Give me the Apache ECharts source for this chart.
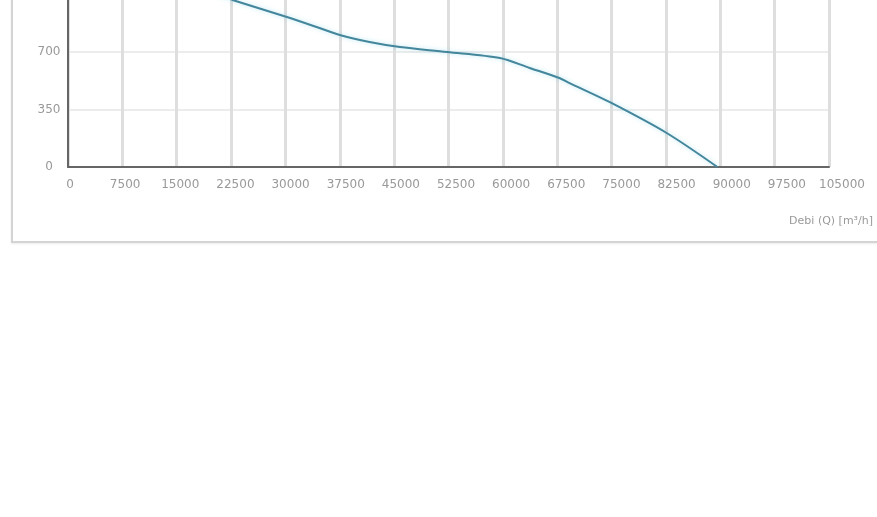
<!DOCTYPE html>
<html>
<head>
<meta charset="utf-8">
<script src="https://cdn.jsdelivr.net/npm/echarts@6/dist/echarts.min.js"></script>
<style>
  html, body { margin: 0; padding: 0; width: 877px; height: 517px; overflow: hidden; background: #fff; }
  #frame { position: absolute; left: 11px; top: -60px; width: 900px; height: 299px;
           border: 2px solid #d4d4d4; box-shadow: 0 1px 2px rgba(0,0,0,0.08); background: #fff; }
  #chart { position: absolute; left: 0; top: -200px; width: 877px; height: 450px; }
</style>
</head>
<body>
<div id="frame"></div>
<div id="chart"></div>
<script>
// Flow rate (Q) in m³/h and pressure values
const flowQ    = [15000, 22700, 30200, 34700, 37500, 41600, 45800, 52300, 59600, 63700, 67800, 69200, 74700, 82600, 89600];
const pressure = [1130, 1017, 913, 846, 803, 761, 730, 700, 663, 603, 542, 511, 396, 207, 0];
const xMin = 0, xMax = 105000, xStep = 7500;
const yMin = 0, yMax = 1750, yStep = 350;
const xAxisTitle = 'Debi (Q) [m³/h]';

const chart = echarts.init(document.getElementById('chart'), null, { renderer: 'canvas' });
const labelFont = { color: '#999', fontSize: 12, fontFamily: 'DejaVu Sans', formatter: v => String(v) };

chart.setOption({
  animation: false,
  backgroundColor: 'transparent',
  grid: [
    { left: 68, right: 48, top: 79.5, bottom: 83 },
    { left: 70, right: 35, top: 79.5, bottom: 83 }
  ],
  xAxis: [
    {
      type: 'value', gridIndex: 0, min: xMin, max: xMax, interval: xStep,
      axisLine: { show: true, lineStyle: { color: '#666', width: 2 } },
      axisTick: { show: false },
      axisLabel: { show: false },
      splitLine: { show: true, lineStyle: { color: '#dedede', width: 3 } }
    },
    {
      type: 'value', gridIndex: 1, min: xMin, max: xMax, interval: xStep,
      axisLine: { show: false }, axisTick: { show: false }, splitLine: { show: false },
      axisLabel: Object.assign({ margin: 12 }, labelFont)
    }
  ],
  yAxis: [
    {
      type: 'value', gridIndex: 0, min: yMin, max: yMax, interval: yStep,
      axisLine: { show: true, lineStyle: { color: '#666', width: 2 } },
      axisTick: { show: false },
      axisLabel: Object.assign({ align: 'center', margin: 19 }, labelFont),
      splitLine: { show: true, lineStyle: { color: '#ececec', width: 2 } }
    },
    {
      type: 'value', gridIndex: 1, min: yMin, max: yMax, show: false
    }
  ],
  graphic: [
    {
      type: 'text', right: 4, top: 200 + 223 - 7,
      style: { text: xAxisTitle, fill: '#999', fontSize: 11, fontFamily: 'DejaVu Sans' }
    }
  ],
  series: [
    {
      type: 'line', xAxisIndex: 0, yAxisIndex: 0,
      data: flowQ.map((q, i) => [q, pressure[i]]),
      smooth: 0.3, showSymbol: false,
      lineStyle: { color: '#44869b', width: 2, shadowColor: 'rgba(120,210,235,0.5)', shadowBlur: 4 }
    }
  ]
});
</script>
</body>
</html>
